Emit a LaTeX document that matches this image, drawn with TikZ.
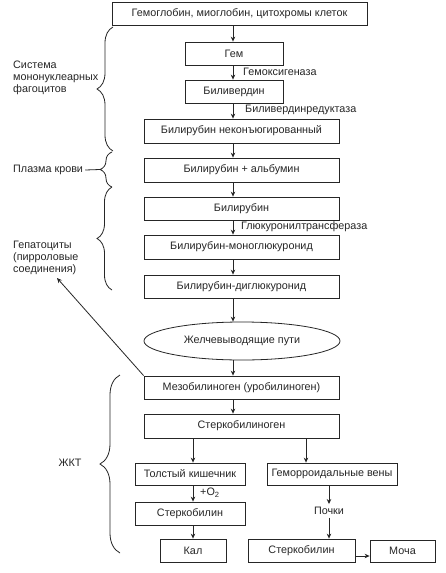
\documentclass[tikz,border=0pt]{standalone}
\usepackage{fontspec}
\setmainfont{Liberation Sans}
\usetikzlibrary{arrows.meta,decorations.pathreplacing,shapes.geometric}
\begin{document}
\begin{tikzpicture}[x=1pt,y=-1pt,
 every node/.style={font=\fontsize{10.8}{12}\selectfont, text=black!85, inner sep=0pt},
 box/.style={draw=black!85, line width=0.8pt, rectangle},
 arr/.style={draw=black!85, line width=0.8pt, -{Stealth[length=5pt,width=4.5pt]}},
 lbl/.style={anchor=west},
 side/.style={anchor=west, align=left},
 brc/.style={draw=black!85, line width=0.8pt, decorate, decoration={brace, amplitude=#1, aspect=0.5}},
 brc/.default=14pt
]
\useasboundingbox (0,0) rectangle (445,573);
\fill[white] (0,0) rectangle (445,573);

\coordinate (col) at (233,0);
\coordinate (cl) at (193,0);
\coordinate (cr) at (306,0);

\node[box, minimum width=255pt, minimum height=23pt] (top) at (239.5,13.5) {Гемоглобин, миоглобин, цитохромы клеток};
\node[box, minimum width=98pt, minimum height=23pt] (gem) at (234,53.5) {Гем};
\node[box, minimum width=98pt, minimum height=23pt] (bv) at (234,91.5) {Биливердин};
\node[box, minimum width=195pt, minimum height=24pt] (bn) at (241.5,131) {Билирубин неконъюгированный};
\node[box, minimum width=195pt, minimum height=24pt] (ba) at (241.5,170) {Билирубин + альбумин};
\node[box, minimum width=195pt, minimum height=23pt] (b) at (241.5,208.5) {Билирубин};
\node[box, minimum width=195pt, minimum height=24pt] (bm) at (241.5,247) {Билирубин-моноглюкуронид};
\node[box, minimum width=195pt, minimum height=23pt] (bd) at (241.5,286.5) {Билирубин-диглюкуронид};
\node[draw=black!85, line width=0.8pt, ellipse, minimum width=196pt, minimum height=38pt] (ell) at (242,341) {Желчевыводящие пути};
\node[box, minimum width=195pt, minimum height=23pt] (mezo) at (241.5,387.5) {Мезобилиноген (уробилиноген)};
\node[box, minimum width=195pt, minimum height=24pt] (sterk) at (241.5,426) {Стеркобилиноген};
\node[box, minimum width=110pt, minimum height=22pt] (tk) at (190,474) {Толстый кишечник};
\node[box, minimum width=130pt, minimum height=22pt] (gv) at (332,474) {Геморроидальные вены};
\node[box, minimum width=110pt, minimum height=23pt] (sl) at (190,513.5) {Стеркобилин};
\node[box, minimum width=66pt, minimum height=23pt] (kal) at (193,550.5) {Кал};
\node[box, minimum width=107pt, minimum height=23pt] (sr) at (301.5,550.5) {Стеркобилин};
\node[box, minimum width=65pt, minimum height=22pt] (mocha) at (402.5,551) {Моча};
\node[inner sep=3pt] (pochki) at (329,511) {Почки};

% main column arrows
\draw[arr] (top.south -| col) -- (gem.north -| col);
\draw[arr] (gem.south -| col) -- (bv.north -| col);
\draw[arr] (bv.south -| col) -- (bn.north -| col);
\draw[arr] (bn.south -| col) -- (ba.north -| col);
\draw[arr] (ba.south -| col) -- (b.north -| col);
\draw[arr] (b.south -| col) -- (bm.north -| col);
\draw[arr] (bm.south -| col) -- (bd.north -| col);
\draw[arr] (bd.south -| col) -- (ell.north -| col);
\draw[arr] (ell.south -| col) -- (mezo.north -| col);
\draw[arr] (mezo.south -| col) -- (sterk.north -| col);
\draw[arr] (sterk.south -| cl) -- (tk.north -| cl);
\draw[arr] (sterk.south -| cr) -- (gv.north -| cr);
\draw[arr] (tk.south -| cl) -- (sl.north -| cl);
\draw[arr] (sl.south -| cl) -- (kal.north -| cl);
\draw[arr] (gv.south -| pochki) -- (pochki.north);
\draw[arr] (pochki.south) -- (sr.north -| pochki);
\draw[arr] ([yshift=-5.5pt]sr.east) -- ([yshift=-5.5pt]sr.east -| mocha.west);

% enzyme labels
\node[lbl] (e1) at (243,72) {Гемоксигеназа};
\node[lbl] (e2) at (245,110) {Биливердинредуктаза};
\node[lbl] (e3) at (241,227) {Глюкуронилтрансфераза};
\node[lbl] (o2) at (200,493) {+O\textsubscript{2}};

% side labels
\node[side] (smf) at (13,78) {Система\\мононуклеарных\\фагоцитов};
\node[side] (pk) at (13,170) {Плазма крови};
\node[side] (hep) at (13,258) {Гепатоциты\\(пирроловые\\соединения)};
\node (zkt) at (70,463) {ЖКТ};

% braces
\draw[brc=16pt] (113,151) -- (113,27);
\draw[brc=12pt] (112,187) -- (112,152);
\draw[brc=15pt] (112,290) -- (112,187);
\draw[brc=20pt] (120,553) -- (120,375);

\coordinate (pktip) at (100,169.5);
\draw[draw=black!85, line width=0.8pt] (pk.east) ++(2,0) -- (pktip);

\coordinate (heptip) at (57,278);
\draw[arr] (mezo.north west) -- (heptip);
\end{tikzpicture}
\end{document}
